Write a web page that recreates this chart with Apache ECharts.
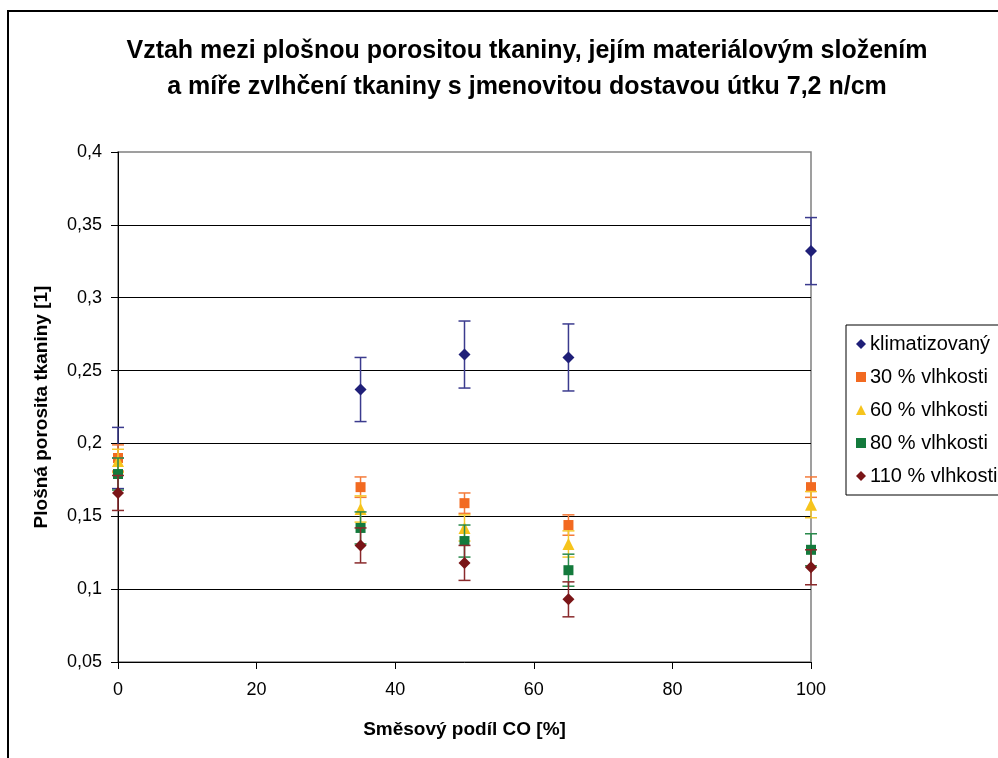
<!DOCTYPE html>
<html>
<head>
<meta charset="utf-8">
<script src="https://cdn.jsdelivr.net/npm/echarts@6/dist/echarts.min.js"></script>
<style>
html,body{margin:0;padding:0;background:#fff;}
#chart{width:998px;height:758px;}
</style>
</head>
<body>
<div id="chart"></div>
<script>
const titleLines = ['Vztah mezi plošnou porositou tkaniny, jejím materiálovým složením', 'a míře zvlhčení tkaniny s jmenovitou dostavou útku 7,2 n/cm'];
const xTitle = 'Směsový podíl CO [%]';
const yTitle = 'Plošná porosita tkaniny [1]';
const seriesNames = ['klimatizovaný', '30 % vlhkosti', '60 % vlhkosti', '80 % vlhkosti', '110 % vlhkosti'];
const xValues = [0, 35, 50, 65, 100];
const klimatizovany = [0.190, 0.237, 0.261, 0.259, 0.332];
const klimatizovanyErr = [0.021, 0.022, 0.023, 0.023, 0.023];
const vlhkost30 = [0.190, 0.170, 0.159, 0.144, 0.170];
const vlhkost30Err = [0.009, 0.007, 0.007, 0.007, 0.007];
const vlhkost60 = [0.188, 0.155, 0.142, 0.131, 0.158];
const vlhkost60Err = [0.008, 0.009, 0.009, 0.009, 0.009];
const vlhkost80 = [0.179, 0.142, 0.133, 0.113, 0.127];
const vlhkost80Err = [0.011, 0.011, 0.011, 0.011, 0.011];
const vlhkost110 = [0.166, 0.130, 0.118, 0.093, 0.115];
const vlhkost110Err = [0.012, 0.012, 0.012, 0.012, 0.012];

const values = [klimatizovany, vlhkost30, vlhkost60, vlhkost80, vlhkost110];
const errors = [klimatizovanyErr, vlhkost30Err, vlhkost60Err, vlhkost80Err, vlhkost110Err];
const colors = ['#1f1f78', '#f26a21', '#f6c41c', '#137a3c', '#7a1517'];
const errColors = ['#3b3b8e', '#f47b3a', '#f6c92e', '#2a8a4c', '#8a2a2c'];
const diamond = 'path://M0,-1 L1,0 L0,1 L-1,0 Z';
const symbols = [diamond, 'rect', 'triangle', 'rect', diamond];
const symbolSizes = [12, 10, 12, 10, 12];
const FONT = 'Liberation Sans, Arial, sans-serif';

const chart = echarts.init(document.getElementById('chart'));
const series = [];
seriesNames.forEach((name, i) => {
  const errData = xValues.map((x, j) => [x, values[i][j] - errors[i][j], values[i][j] + errors[i][j]]);
  series.push({
    type: 'custom',
    name: name + '_err',
    z: 2 + i * 2,
    silent: true,
    data: errData,
    renderItem: function (params, api) {
      const x = api.value(0);
      const lo = api.coord([x, api.value(1)]);
      const hi = api.coord([x, api.value(2)]);
      const hw = 6;
      const st = { stroke: errColors[i], lineWidth: 1.5 };
      return {
        type: 'group',
        children: [
          { type: 'line', shape: { x1: lo[0], y1: lo[1], x2: hi[0], y2: hi[1] }, style: st },
          { type: 'line', shape: { x1: lo[0] - hw, y1: lo[1], x2: lo[0] + hw, y2: lo[1] }, style: st },
          { type: 'line', shape: { x1: hi[0] - hw, y1: hi[1], x2: hi[0] + hw, y2: hi[1] }, style: st }
        ]
      };
    }
  });
  series.push({
    type: 'scatter',
    name: name,
    z: 3 + i * 2,
    symbol: symbols[i],
    symbolSize: symbolSizes[i],
    itemStyle: { color: colors[i], opacity: 1 },
    data: xValues.map((x, j) => [x, values[i][j]])
  });
});

const option = {
  backgroundColor: '#ffffff',
  animation: false,
  title: {
    text: titleLines.join('\n'),
    left: 522,
    textAlign: 'center',
    top: 28,
    textStyle: { fontFamily: FONT, fontSize: 25, fontWeight: 'bold', color: '#000', lineHeight: 36 }
  },
  graphic: [{
    type: 'rect',
    shape: { x: 8, y: 11, width: 1000, height: 760 },
    style: { fill: 'none', stroke: '#000', lineWidth: 2 },
    silent: true
  }],
  legend: {
    orient: 'vertical',
    left: 846,
    top: 325,
    padding: [9, 12, 9, 10],
    itemGap: 13,
    itemWidth: 10,
    itemHeight: 10,
    borderColor: '#000',
    borderWidth: 1,
    textStyle: { fontFamily: FONT, fontSize: 20, color: '#000', padding: [0, 0, 0, -1] },
    data: seriesNames.map((n, i) => ({ name: n, icon: symbols[i] }))
  },
  grid: {
    left: 118, top: 152, width: 693, height: 510,
    show: true, borderColor: '#808080', borderWidth: 1.5, backgroundColor: '#fff'
  },
  xAxis: {
    type: 'value',
    min: 0, max: 100, interval: 20,
    name: xTitle,
    nameLocation: 'middle',
    nameGap: 58,
    nameTextStyle: { fontFamily: FONT, fontSize: 19, fontWeight: 'bold', color: '#000' },
    axisLine: { show: true, lineStyle: { color: '#000', width: 1 } },
    axisTick: { show: true, inside: false, length: 7, lineStyle: { color: '#000' } },
    axisLabel: { fontFamily: FONT, fontSize: 18, color: '#000', margin: 19 },
    splitLine: { show: false }
  },
  yAxis: {
    type: 'value',
    min: 0.05, max: 0.4, interval: 0.05,
    name: yTitle,
    nameLocation: 'middle',
    nameGap: 67,
    nameTextStyle: { fontFamily: FONT, fontSize: 19, fontWeight: 'bold', color: '#000' },
    axisLine: { show: true, lineStyle: { color: '#000', width: 1 } },
    axisTick: { show: true, inside: false, length: 7, lineStyle: { color: '#000' } },
    axisLabel: {
      fontFamily: FONT, fontSize: 18, color: '#000', margin: 16,
      formatter: v => String(parseFloat(v.toFixed(2))).replace('.', ',')
    },
    splitLine: { show: true, showMinLine: false, showMaxLine: false, lineStyle: { color: '#000', width: 1.2 } }
  },
  series: series
};
chart.setOption(option);
</script>
</body>
</html>
